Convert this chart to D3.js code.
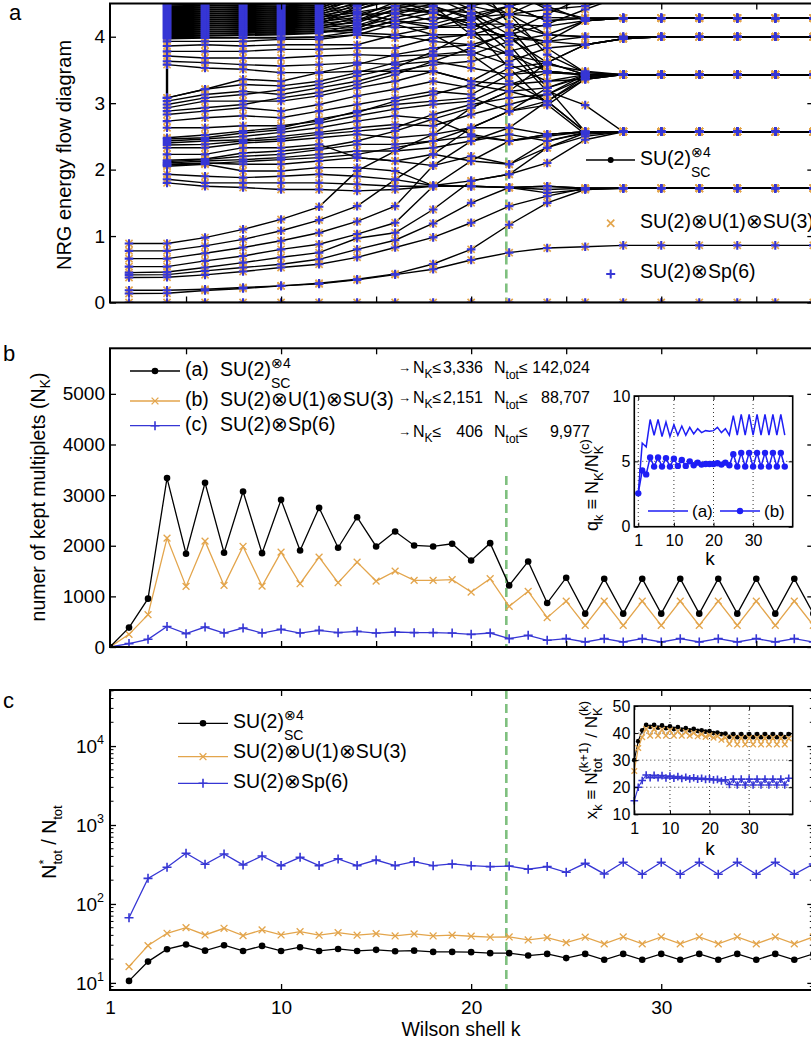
<!DOCTYPE html>
<html>
<head>
<meta charset="utf-8">
<script src="https://cdn.jsdelivr.net/npm/d3@7"></script>
<style>
  body { margin: 0; background: #fff; }
  svg { display: block; font-family: "Liberation Sans", Arial, Helvetica, sans-serif; }
</style>
</head>
<body>
<div id="chart"></div>
<script>
const _ = null;

// ---------- panel a : NRG energy flow (even Wilson shells) ----------
const kFlow = [2,4,6,8,10,12,14,16,18,20,22,24,26,28,30,32,34,36,38];
const lowLevels = [
  [0,0,0,0,0,0,0,0,0,0,0,0,0,0,0,0,0,0,0],
  [0.135,0.14,0.18,0.21,0.25,0.28,0.34,0.42,0.50,0.64,0.75,0.82,0.84,0.86,0.86,0.86,0.86,0.86,0.86],
  [0.185,0.185,0.20,0.225,0.25,0.29,0.35,0.43,0.58,0.80,1.17,1.50,1.70,1.72,1.72,1.72,1.72,1.72,1.72],
  [0.376,0.38,0.416,0.466,0.526,0.576,0.68,0.827,0.98,1.20,1.45,1.60,1.72,1.72,1.72,1.72,1.72,1.72,1.72],
  [0.416,0.42,0.476,0.526,0.576,0.65,0.80,0.937,1.19,1.50,1.73,1.75,1.72,1.72,1.72,1.72,1.72,1.72,1.72],
  [0.45,0.46,0.526,0.60,0.68,0.75,0.967,1.05,1.40,1.83,1.93,2.33,2.55,2.57,2.57,2.57,2.57,2.57,2.57],
  [0.54,0.54,0.627,0.70,0.80,0.877,1.03,1.20,1.75,2.13,2.43,2.53,2.57,2.57,2.57,2.57,2.57,2.57,2.57],
  [0.66,0.66,0.742,0.827,0.93,1.05,1.22,1.45,2.06,2.43,2.63,3.03,3.40,3.43,3.43,3.43,3.43,3.43,3.43],
  [0.777,0.777,0.852,0.95,1.08,1.24,1.45,1.85,2.23,2.63,2.88,3.23,3.43,3.43,3.43,3.43,3.43,3.43,3.43],
  [0.887,0.887,0.977,1.10,1.25,1.44,1.98,2.28,2.53,2.93,3.18,3.61,3.88,3.97,4.0,4.0,4.0,4.0,4.0]
];
const midLevels = [
  [_,1.80,1.75,1.73,1.70,1.70,1.68,1.70,1.75,1.75,1.73,1.75,1.72,1.72,1.72,1.72,1.72,1.72,1.72],
  [_,1.855,1.80,1.80,1.80,1.80,1.78,1.75,1.75,1.75,1.73,1.70,1.72,1.72,1.72,1.72,1.72,1.72,1.72],
  [_,1.93,1.90,1.88,1.90,1.93,1.90,1.85,1.76,1.83,1.93,2.10,2.45,2.57,2.57,2.57,2.57,2.57,2.57],
  [_,2.05,2.08,1.98,1.98,2.03,2.03,1.98,1.76,1.75,1.73,1.65,1.70,1.72,1.72,1.72,1.72,1.72,1.72],
  [_,2.07,2.09,2.12,2.15,2.18,2.23,2.33,2.43,2.63,2.88,2.97,3.36,3.43,3.43,3.43,3.43,3.43,3.43],
  [_,2.08,2.10,2.08,2.08,2.13,2.18,2.13,2.06,2.20,2.08,2.33,2.50,2.57,2.57,2.57,2.57,2.57,2.57],
  [_,2.10,2.13,2.15,2.18,2.23,2.28,2.28,2.33,2.43,2.53,2.43,2.56,2.57,2.57,2.57,2.57,2.57,2.57],
  [_,2.12,2.15,2.20,2.23,2.30,2.38,2.38,2.43,2.50,2.43,2.53,2.57,2.57,2.57,2.57,2.57,2.57,2.57],
  [_,2.14,2.16,2.25,2.28,2.33,2.43,2.58,2.76,2.53,2.43,2.50,2.57,2.57,2.57,2.57,2.57,2.57,2.57],
  [_,2.23,2.23,2.33,2.33,2.38,2.18,2.13,2.23,2.13,2.08,2.43,2.55,2.57,2.57,2.57,2.57,2.57,2.57],
  [_,2.33,2.33,2.40,2.43,2.48,2.53,2.48,2.53,2.63,2.63,2.53,2.57,2.57,2.57,2.57,2.57,2.57,2.57],
  [_,2.37,2.38,2.43,2.46,2.53,2.58,2.63,2.83,2.98,3.08,3.13,3.43,3.43,3.43,3.43,3.43,3.43,3.43],
  [_,2.40,2.43,2.45,2.50,2.56,2.63,2.68,2.66,2.83,2.98,3.13,3.38,3.43,3.43,3.43,3.43,3.43,3.43],
  [_,2.43,2.46,2.50,2.56,2.63,2.73,2.81,2.76,2.93,3.18,3.23,3.40,3.43,3.43,3.43,3.43,3.43,3.43],
  [_,2.46,2.48,2.55,2.60,2.70,2.81,2.91,2.98,3.03,3.28,3.33,3.43,3.43,3.43,3.43,3.43,3.43,3.43],
  [_,2.48,2.52,2.58,2.63,2.76,2.86,3.03,3.13,3.28,3.18,3.03,2.57,2.57,2.57,2.57,2.57,2.57,2.57],
  [_,2.63,2.63,2.66,2.66,2.73,2.88,2.98,3.03,3.08,2.88,3.03,3.36,3.43,3.43,3.43,3.43,3.43,3.43],
  [_,2.73,2.78,2.81,2.78,2.88,2.98,3.08,3.18,3.13,3.43,3.48,3.43,3.43,3.43,3.43,3.43,3.43,3.43],
  [_,2.83,2.88,2.93,2.88,2.98,3.11,3.21,3.33,3.23,3.53,3.61,3.88,3.97,4.0,4.0,4.0,4.0,4.0],
  [_,2.88,2.93,2.98,3.08,3.16,3.28,3.43,3.63,3.83,4.06,4.34,4.60],
  [_,2.93,3.03,3.03,3.03,3.11,3.23,3.33,3.48,3.33,3.63,3.83,3.88,3.97,4.0,4.0,4.0,4.0,4.0],
  [_,2.98,3.08,3.13,3.20,3.28,3.41,3.53,3.78,4.08,4.34,4.60],
  [_,3.03,3.13,3.18,3.13,3.23,3.33,3.48,3.58,3.63,3.78,3.93,4.24,4.28,4.28,4.28,4.28,4.28,4.28],
  [_,3.08,3.21,3.28,3.26,3.33,3.46,3.61,3.71,3.73,3.93,4.03,4.24,4.28,4.28,4.28,4.28,4.28,4.28],
  [_,3.08,3.21,3.36,3.33,3.46,3.58,3.73,3.83,3.88,4.03,4.19,4.41,4.62]
];
const highLevels = [
  [_,3.58,3.53,3.51,3.46,3.46,3.48,3.48,3.48,3.33,3.28,3.46,3.43,3.43,3.43,3.43,3.43,3.43,3.43],
  [_,3.63,3.61,3.58,3.56,3.58,3.61,3.58,3.63,3.53,3.43,3.58,3.48,3.43,3.43,3.43,3.43,3.43,3.43],
  [_,3.71,3.68,3.68,3.68,3.71,3.73,3.71,3.73,3.78,3.58,3.33,3.36,3.43,3.43,3.43,3.43,3.43,3.43],
  [_,3.78,3.78,3.78,3.81,3.81,3.83,3.83,3.98,4.03,4.19,4.16,4.24,4.28,4.28,4.28,4.28,4.28,4.28],
  [_,3.86,3.88,3.86,3.88,3.88,3.88,4.03,4.14,4.14,4.34,4.41,4.46,4.62],
  [_,3.93,3.93,3.93,3.96,3.96,4.03,4.19,4.29,4.24,4.46,4.60],
  [_,3.97,3.98,3.98,3.98,3.99,4.03,3.98,4.03,4.03,4.03,3.93,3.88,3.97,4.0,4.0,4.0,4.0,4.0],
  [_,3.985,3.99,3.99,3.99,4.00,4.08,4.24,4.19,4.34,4.46,4.60],
  [_,4.00,4.01,4.02,4.03,4.05,4.19,4.14,4.14,4.19,4.19,4.03,4.0,4.0,4.0,4.0,4.0,4.0,4.0],
  [_,4.015,4.02,4.03,4.045,4.06,4.12,4.36,4.50,4.70],
  [_,4.03,4.04,4.05,4.06,4.08,4.10,4.24,4.36,4.46,4.34,3.73,3.46,3.43,3.43,3.43,3.43,3.43,3.43],
  [_,4.045,4.05,4.06,4.075,4.09,4.06,4.03,3.93,3.88,3.73,3.48,3.43,3.43,3.43,3.43,3.43,3.43,3.43],
  [_,4.06,4.07,4.08,4.09,4.11,4.14,4.29,4.41,4.36,4.03,3.46,3.43,3.43,3.43,3.43,3.43,3.43,3.43],
  [_,4.075,4.08,4.09,4.105,4.12,4.24,4.41,4.56,4.70],
  [_,4.09,4.10,4.11,4.12,4.14,4.17,4.34,4.46,4.26,3.78,3.18,2.97,2.57,2.57,2.57,2.57,2.57,2.57],
  [_,4.105,4.11,4.12,4.135,4.15,4.29,4.19,4.03,3.73,3.33,3.03,2.57,2.57,2.57,2.57,2.57,2.57,2.57],
  [_,4.12,4.13,4.14,4.15,4.17,4.21,4.41,4.36,4.14,3.53,2.98,2.53,2.57,2.57,2.57,2.57,2.57,2.57],
  [_,4.135,4.14,4.15,4.165,4.18,4.46,4.60],
  [_,4.15,4.16,4.17,4.18,4.20,4.25,4.46,4.56,4.62],
  [_,4.165,4.17,4.18,4.195,4.21,4.34,4.46,4.36,4.19,3.98,3.61,3.43,3.43,3.43,3.43,3.43,3.43,3.43],
  [_,4.18,4.19,4.20,4.21,4.23,4.29,4.52,4.60],
  [_,4.195,4.20,4.21,4.225,4.24,4.41,4.60],
  [_,4.21,4.22,4.23,4.24,4.26,4.33,4.36,4.24,4.46,4.60],
  [_,4.225,4.23,4.24,4.255,4.27,4.49,4.70],
  [_,4.24,4.25,4.26,4.27,4.29,4.37,4.46,4.46,4.29,4.34,4.29,4.28,4.28,4.28,4.28,4.28,4.28,4.28],
  [_,4.255,4.26,4.27,4.285,4.30,4.36,4.24,4.14,4.29,4.46,4.24,4.28,4.28,4.28,4.28,4.28,4.28,4.28],
  [_,4.27,4.28,4.29,4.30,4.32,4.41,4.56,4.70],
  [_,4.285,4.29,4.30,4.315,4.33,4.52,4.80],
  [_,4.30,4.31,4.32,4.33,4.35,4.45,4.62],
  [_,4.315,4.32,4.33,4.345,4.36,4.58],
  [_,4.33,4.34,4.35,4.36,4.38,4.49,4.70],
  [_,4.345,4.35,4.36,4.375,4.39,4.62],
  [_,4.36,4.37,4.38,4.39,4.41,4.55,4.80],
  [_,4.375,4.38,4.39,4.405,4.42,4.66],
  [_,4.39,4.40,4.41,4.42,4.44,4.60],
  [_,4.405,4.41,4.42,4.435,4.45,4.70],
  [_,4.42,4.43,4.44,4.45,4.47,4.65],
  [_,4.435,4.44,4.45,4.465,4.48,4.74],
  [_,4.45,4.46,4.47,4.48,4.50,4.70],
  [_,4.465,4.47,4.48,4.495,4.51,4.78],
  [_,4.48,4.49,4.50,4.51,4.53,4.75],
  [_,4.495,4.50,4.51,4.525,4.54]
];
const enteringLevels = [
  [_,_,_,_,_,_,_,_,_,4.70,4.46,4.24,4.28,4.28,4.28,4.28,4.28,4.28,4.28],
  [_,_,_,_,_,_,_,_,4.80,4.60,4.34,4.03,4.0,4.0,4.0,4.0,4.0,4.0,4.0],
  [_,_,_,_,_,_,_,_,_,4.90,4.19,3.83,3.46,3.43,3.43,3.43,3.43,3.43,3.43],
  [_,_,_,_,_,_,_,_,_,_,4.70,4.41,4.28,4.28,4.28,4.28,4.28,4.28,4.28],
  [_,_,_,_,_,_,_,4.70,4.46,4.03,3.73,3.61,3.43,3.43,3.43,3.43,3.43,3.43,3.43],
  [_,_,_,_,_,_,_,4.80,4.60,4.34,3.88,3.23,2.57,2.57,2.57,2.57,2.57,2.57,2.57],
  [_,_,_,_,_,_,_,_,4.90,4.50,4.60,4.46,4.24,4.28,4.28,4.28,4.28,4.28,4.28],
  [_,_,_,_,_,_,4.70,4.56,4.36,4.19,3.98,3.93,4.0,4.0,4.0,4.0,4.0,4.0,4.0],
  [_,_,_,_,_,_,_,4.90,4.66,4.41,4.14,3.48,3.43,3.43,3.43,3.43,3.43,3.43,3.43]
];
const jumpK = [4, 4];
const jumpE = [3.08, 3.58];
const flowTicksY = [0, 1, 2, 3, 4];

// ---------- panel b : kept multiplets ----------
const kShell = [1,2,3,4,5,6,7,8,9,10,11,12,13,14,15,16,17,18,19,20,21,22,23,24,25,26,27,28,29,30,31,32,33,34,35,36,37,38];
const keptA = [0,383,955,3336,1842,3243,1862,3071,1854,2907,1907,2749,1960,2564,1986,2282,2006,1986,2039,1710,2051,1217,1690,868,1369,659,1349,659,1349,659,1349,659,1349,659,1349,659,1349,659];
const keptB = [0,250,639,2151,1197,2091,1217,1986,1203,1874,1250,1775,1270,1677,1302,1499,1316,1316,1329,1085,1349,803,1099,580,907,428,907,428,907,428,907,428,907,428,907,428,907,428];
const keptC = [0,67,152,406,264,394,276,375,276,349,276,329,283,309,276,296,283,283,276,250,276,165,230,132,165,99,165,99,165,99,165,99,165,99,165,99,165,99];
const keptTicksY = [0,1000,2000,3000,4000,5000];

// inset b : q_k ratios
const qA = [2.55,6.4,6.1,8.2,7.0,8.2,6.9,8.0,6.9,7.8,7.0,7.7,7.0,7.6,7.1,7.5,7.2,7.35,7.3,7.35,7.6,7.2,7.5,7.0,8.5,7.0,8.6,7.0,8.6,7.0,8.6,7.0,8.6,7.0,8.6,7.0,8.6,7.0];
const qB = [2.55,4.3,4.0,5.3,4.6,5.3,4.6,5.25,4.6,5.2,4.65,5.1,4.65,5.0,4.7,4.9,4.75,4.8,4.8,4.8,4.85,4.75,4.9,4.7,5.55,4.6,5.65,4.6,5.65,4.6,5.65,4.6,5.65,4.6,5.65,4.6,5.65,4.6];

// ---------- panel c : N*_tot / N_tot ----------
const kRatio = [2,3,4,5,6,7,8,9,10,11,12,13,14,15,16,17,18,19,20,21,22,23,24,25,26,27,28,29,30,31,32,33,34,35,36,37,38];
const ratioA = [10.6,18.6,26.7,30.6,25.6,30.0,25.4,29.4,25.4,28.3,25.4,26.9,25.4,26.2,25.2,25.6,24.7,24.7,24.5,23.8,23.8,22.2,23.3,20.6,23.3,19.6,23.3,19.6,23.3,19.6,23.3,19.6,23.3,19.6,23.3,19.6,23.3];
const ratioB = [16.1,29.7,42.5,50.1,40.5,49.2,39.7,46.9,40.5,44.6,40.2,43.4,40.2,42.1,39.3,41.7,39.3,40.2,39.0,37.9,38.2,35.0,37.4,32.4,37.9,31.2,38.2,31.2,38.2,31.2,38.2,31.2,38.2,31.2,38.2,31.2,38.2];
const ratioC = [67,211,292,438,318,430,312,405,306,390,306,372,306,360,306,343,305,321,305,297,302,275,297,252,327,240,337,238,337,238,337,238,337,238,337,238,321];

// inset c : x_k growth factors
const kGrowth = [1,2,3,4,5,6,7,8,9,10,11,12,13,14,15,16,17,18,19,20,21,22,23,24,25,26,27,28,29,30,31,32,33,34,35,36,37,38,39,40];
const growA = [30,37,41,43,42.3,43,42,42.8,41.8,42.5,41.5,42.2,41.3,41.8,41,41.5,40.8,41,40.5,40.7,40,40.2,39.6,39.8,38.6,39.6,38.5,39.6,38.5,39.6,38.5,39.6,38.5,39.6,38.5,39.6,38.5,39.6,38.5,39.6];
const growB = [26,34.5,38.5,41.5,39,41.5,39,41.2,39,41,39,40.7,39,40.4,39,40,38.8,39.6,38.6,39.2,38.3,38.8,37.5,38.3,36,38.2,35.8,38.2,35.8,38.2,35.8,38.2,35.8,38.2,35.8,38.2,35.8,38.2,35.8,38];
const growC = [15,20,22.5,24.5,23.5,24.4,23.5,24.3,23.4,24.1,23.3,23.9,23.2,23.7,23.1,23.5,23,23.3,22.9,23.1,22.7,22.9,22.3,22.7,21,23,20.8,23,20.8,23,20.8,23,20.8,23,20.8,23,20.8,23,20.8,23.3];

const wilsonTicks = [5,10,15,20,25,30,35];
const shellLabels = [1,10,20,30];
const dashK = 21.85;

// ---------- styling ----------
const BLACK = '#000', ORANGE = '#e3a54c', BLUE = '#3636d4', PBLUE = '#1e1ef5', GREEN = '#7fc07f';
const W = 811, H = 1042;
const L = 110, R = 813.3;
const LEG = 19.5, TICK = 19;

const svg = d3.select('#chart').append('svg').attr('width', W).attr('height', H);
const x = d3.scaleLinear().domain([1, 38]).range([L, R]);

const crossPath = a => `M${-a},${-a}L${a},${a}M${-a},${a}L${a},${-a}`;
const plusPath = a => `M${-a},0H${a}M0,${-a}V${a}`;

function rich(text, parts) {
  let shift = 0, prevW = 0;
  parts.forEach(p => {
    const off = p.off || 0;
    const ts = text.append('tspan').text(p.t).attr('dy', off - shift);
    if (p.size) ts.attr('font-size', p.size);
    if (p.back) ts.attr('dx', -prevW);
    shift = off;
    prevW = ts.node().getComputedTextLength();
  });
  return text;
}

function axes(g, xs, ys, top, bottom, left, right, o) {
  const tick = o.tick || 6;
  const st = a => a.call(s => s.select('.domain').remove())
    .call(s => s.selectAll('line').attr('stroke', BLACK).attr('stroke-width', o.tw || 1.3))
    .call(s => s.selectAll('text').attr('font-size', o.fs || TICK).attr('fill', BLACK)
      .attr('font-family', '"Liberation Sans", Arial, sans-serif'));
  g.append('g').attr('transform', `translate(0,${bottom})`)
    .call(d3.axisBottom(xs).tickValues(o.xt).tickSize(-tick).tickPadding(o.xpad || 11)
      .tickFormat(o.xlab ? d3.format('d') : '')).call(st);
  g.append('g').attr('transform', `translate(0,${top})`)
    .call(d3.axisTop(xs).tickValues(o.xt).tickSize(-tick).tickFormat('')).call(st);
  g.append('g').attr('transform', `translate(${left},0)`)
    .call(d3.axisLeft(ys).tickValues(o.yt).tickSize(-tick).tickPadding(o.ypad || 5)
      .tickFormat(o.ylab === false ? '' : d3.format('d'))).call(st);
  g.append('g').attr('transform', `translate(${right},0)`)
    .call(d3.axisRight(ys).tickValues(o.yt).tickSize(-tick).tickFormat('')).call(st);
}

function frame(g, top, bottom, left, right, w) {
  g.append('rect').attr('x', left).attr('y', top).attr('width', right - left).attr('height', bottom - top)
    .attr('fill', 'none').attr('stroke', BLACK).attr('stroke-width', w || 2);
}

function clip(id, top, bottom, left, right) {
  svg.append('clipPath').attr('id', id).append('rect')
    .attr('x', left).attr('y', top).attr('width', right - left).attr('height', bottom - top);
}

function series(g, xs, ys, ks, vals, color, marker, size, lw) {
  const pts = ks.map((k, i) => [k, vals[i]]).filter(d => d[1] != null);
  g.append('path').datum(pts)
    .attr('d', d3.line().x(d => xs(d[0])).y(d => ys(d[1])))
    .attr('fill', 'none').attr('stroke', color).attr('stroke-width', lw || 1.3);
  markers(g, xs, ys, pts, color, marker, size);
}

function markers(g, xs, ys, pts, color, marker, size, sw) {
  if (marker === 'none') return;
  const m = g.append('g').selectAll('.m').data(pts).join(marker === 'dot' ? 'circle' : 'path')
    .attr('transform', d => `translate(${xs(d[0])},${ys(d[1])})`);
  if (marker === 'dot') m.attr('r', size).attr('fill', color);
  else m.attr('d', marker === 'x' ? crossPath(size) : plusPath(size))
    .attr('fill', 'none').attr('stroke', color).attr('stroke-width', sw || (marker === 'x' ? 1.3 : 1.6));
}

function panelLetter(t, px, py) {
  svg.append('text').attr('x', px).attr('y', py).attr('font-size', 22).text(t);
}

function ylabel(px, py, parts, fs) {
  const t = svg.append('text').attr('transform', `translate(${px},${py}) rotate(-90)`)
    .attr('text-anchor', 'middle').attr('font-size', fs || 19.5);
  return rich(t, parts);
}

const su4 = (t0, size) => [
  { t: t0 },
  { t: '⊗4', off: -8, size: size },
  { t: 'SC', off: 12, size: size, back: true }
];

// =============== panel a ===============
const aTop = 3.5, aBot = 302.5;
const ya = d3.scaleLinear().domain([0, 4.5]).range([aBot, aTop]);
clip('clipA', aTop, aBot, L, R);
const ga = svg.append('g');
const gaData = ga.append('g').attr('clip-path', 'url(#clipA)');

gaData.append('line').attr('x1', x(dashK)).attr('x2', x(dashK)).attr('y1', aTop).attr('y2', aBot)
  .attr('stroke', GREEN).attr('stroke-width', 2.6).attr('stroke-dasharray', '9,5');

const allLevels = lowLevels.concat(midLevels, highLevels, enteringLevels);
const flowLine = d3.line().defined(d => d[1] != null).x(d => x(d[0])).y(d => ya(d[1]));
allLevels.forEach(lv => {
  gaData.append('path').datum(kFlow.map((k, i) => [k, lv[i] === undefined ? null : lv[i]]))
    .attr('d', flowLine).attr('fill', 'none').attr('stroke', BLACK).attr('stroke-width', 1.4);
});
gaData.append('path').datum(jumpK.map((k, i) => [k, jumpE[i]]))
  .attr('d', flowLine).attr('fill', 'none').attr('stroke', BLACK).attr('stroke-width', 2.4);

const flowPts = [];
allLevels.forEach(lv => lv.forEach((v, i) => { if (v != null && v <= 4.56) flowPts.push([kFlow[i], v]); }));
markers(gaData, x, ya, flowPts, ORANGE, 'x', 3.6, 1.7);
markers(gaData, x, ya, flowPts, BLUE, 'plus', 4.3, 2.1);

frame(ga, aTop, aBot, L, R);
axes(ga, x, ya, aTop, aBot, L, R, { xt: wilsonTicks, yt: flowTicksY, xlab: false });
ylabel(71, 155, [{ t: 'NRG energy flow diagram' }], 20);
panelLetter('a', 9, 20);

// legend a
const legA = svg.append('g');
legA.append('line').attr('x1', 586).attr('x2', 635).attr('y1', 160).attr('y2', 160).attr('stroke', BLACK).attr('stroke-width', 1.3);
legA.append('circle').attr('cx', 610.7).attr('cy', 160).attr('r', 3).attr('fill', BLACK);
rich(legA.append('text').attr('x', 640).attr('y', 164.5).attr('font-size', LEG), su4('SU(2)', 14));
markers(legA, d => d, d => d, [[610.7, 223.3]], ORANGE, 'x', 3.6, 1.7);
legA.append('text').attr('x', 640).attr('y', 228).attr('font-size', LEG).text('SU(2)⊗U(1)⊗SU(3)');
markers(legA, d => d, d => d, [[610.7, 274]], BLUE, 'plus', 4.5, 2);
legA.append('text').attr('x', 640).attr('y', 278).attr('font-size', LEG).text('SU(2)⊗Sp(6)');

// =============== panel b ===============
const bTop = 348.3, bBot = 647;
const yb = d3.scaleLinear().domain([0, 5900]).range([bBot, bTop]);
clip('clipB', bTop, bBot, L, R);
const gb = svg.append('g');
const gbData = gb.append('g').attr('clip-path', 'url(#clipB)');
gbData.append('line').attr('x1', x(dashK)).attr('x2', x(dashK)).attr('y1', 476).attr('y2', bBot)
  .attr('stroke', GREEN).attr('stroke-width', 2.6).attr('stroke-dasharray', '9,5');
series(gbData, x, yb, kShell, keptC, BLUE, 'plus', 4.5);
series(gbData, x, yb, kShell, keptB, ORANGE, 'x', 3.4);
series(gbData, x, yb, kShell, keptA, BLACK, 'dot', 3.3);
frame(gb, bTop, bBot, L, R);
axes(gb, x, yb, bTop, bBot, L, R, { xt: wilsonTicks, yt: keptTicksY, xlab: false });
ylabel(45, 497, [{ t: 'numer of kept multiplets (N' }, { t: 'K', off: 5, size: 14 }, { t: ')', off: 0 }]);
panelLetter('b', 3, 360.7);

// legend b
const legB = svg.append('g');
[[371, BLACK, 'dot', 3.3], [401, ORANGE, 'x', 3.4], [425.7, BLUE, 'plus', 4.5]].forEach(r => {
  legB.append('line').attr('x1', 130).attr('x2', 180).attr('y1', r[0]).attr('y2', r[0]).attr('stroke', r[1]).attr('stroke-width', 1.3);
  markers(legB, d => d, d => d, [[155, r[0]]], r[1], r[2], r[3]);
});
legB.append('text').attr('x', 185).attr('y', 376).attr('font-size', LEG).text('(a)');
legB.append('text').attr('x', 185).attr('y', 406).attr('font-size', LEG).text('(b)');
legB.append('text').attr('x', 185).attr('y', 431).attr('font-size', LEG).text('(c)');
rich(legB.append('text').attr('x', 220).attr('y', 376).attr('font-size', LEG), su4('SU(2)', 14));
legB.append('text').attr('x', 220).attr('y', 406).attr('font-size', LEG).text('SU(2)⊗U(1)⊗SU(3)');
legB.append('text').attr('x', 220).attr('y', 431).attr('font-size', LEG).text('SU(2)⊗Sp(6)');

// bound annotations
const bounds = [['3,336', '142,024', 372.7], ['2,151', '88,707', 402.7], ['406', '9,977', 436.7]];
bounds.forEach(b => {
  const yy = b[2];
  svg.append('text').attr('x', 398).attr('y', yy - 1).attr('font-size', 13).text('→');
  rich(svg.append('text').attr('x', 413).attr('y', yy).attr('font-size', 16),
    [{ t: 'N' }, { t: 'K', off: 5, size: 12 }, { t: '≤', off: 0 }]);
  svg.append('text').attr('x', 483).attr('y', yy).attr('font-size', 16).attr('text-anchor', 'end').text(b[0]);
  rich(svg.append('text').attr('x', 494).attr('y', yy).attr('font-size', 16),
    [{ t: 'N' }, { t: 'tot', off: 6, size: 12 }, { t: '≤', off: 0 }]);
  svg.append('text').attr('x', 590).attr('y', yy).attr('font-size', 16).attr('text-anchor', 'end').text(b[1]);
});

// inset b
const ibL = 634.3, ibR = 792.7, ibT = 396, ibB = 526.7;
const xib = d3.scaleLinear().domain([0, 40]).range([ibL, ibR]);
const yib = d3.scaleLinear().domain([0, 10]).range([ibB, ibT]);
const gib = svg.append('g');
gib.append('rect').attr('x', ibL).attr('y', ibT).attr('width', ibR - ibL).attr('height', ibB - ibT).attr('fill', '#fff');
shellLabels.forEach(k => gib.append('line').attr('x1', xib(k)).attr('x2', xib(k)).attr('y1', ibT).attr('y2', ibB)
  .attr('stroke', BLACK).attr('stroke-width', 0.8).attr('stroke-dasharray', '1,3'));
gib.append('line').attr('x1', ibL).attr('x2', ibR).attr('y1', yib(5)).attr('y2', yib(5))
  .attr('stroke', BLACK).attr('stroke-width', 0.8).attr('stroke-dasharray', '1,3');
series(gib, xib, yib, kShell, qA, PBLUE, 'none', 0, 1.5);
series(gib, xib, yib, kShell, qB, PBLUE, 'dot', 3.2, 1.5);
frame(gib, ibT, ibB, ibL, ibR, 1.6);
axes(gib, xib, yib, ibT, ibB, ibL, ibR, { xt: shellLabels, yt: [0, 5, 10], xlab: true, fs: 16, tick: 4, xpad: 8, ypad: 4, tw: 1 });
gib.append('text').attr('x', 710).attr('y', 565).attr('font-size', 19).attr('text-anchor', 'middle').text('k');
ylabel(598, 485, [{ t: 'q' }, { t: 'k', off: 5, size: 13 }, { t: ' ≡ N', off: 0 }, { t: 'K', off: 5, size: 13 },
  { t: '/N', off: 0 }, { t: 'K', off: 5, size: 13 }, { t: '(c)', off: -9, size: 13, back: true }], 18);
// inset legend
gib.append('line').attr('x1', 648).attr('x2', 688).attr('y1', 511).attr('y2', 511).attr('stroke', PBLUE).attr('stroke-width', 1.5);
gib.append('text').attr('x', 692).attr('y', 517).attr('font-size', 17).text('(a)');
gib.append('line').attr('x1', 720).attr('x2', 760).attr('y1', 511).attr('y2', 511).attr('stroke', PBLUE).attr('stroke-width', 1.5);
gib.append('circle').attr('cx', 740).attr('cy', 511).attr('r', 3.2).attr('fill', PBLUE);
gib.append('text').attr('x', 764).attr('y', 517).attr('font-size', 17).text('(b)');

// =============== panel c ===============
const cTop = 690, cBot = 990;
const yc = d3.scaleLog().domain([Math.pow(10, 0.91), Math.pow(10, 4.71)]).range([cBot, cTop]);
clip('clipC', cTop, cBot, L, R);
const gc = svg.append('g');
const gcData = gc.append('g').attr('clip-path', 'url(#clipC)');
gcData.append('line').attr('x1', x(dashK)).attr('x2', x(dashK)).attr('y1', cTop).attr('y2', cBot)
  .attr('stroke', GREEN).attr('stroke-width', 2.6).attr('stroke-dasharray', '9,5');
series(gcData, x, yc, kRatio, ratioC, BLUE, 'plus', 4.5);
series(gcData, x, yc, kRatio, ratioB, ORANGE, 'x', 3.4);
series(gcData, x, yc, kRatio, ratioA, BLACK, 'dot', 3.3);
frame(gc, cTop, cBot, L, R);
const decades = [10, 100, 1000, 10000];
const minor = [];
[1, 10, 100, 1000, 10000].forEach(d => [2,3,4,5,6,7,8,9].forEach(m => {
  const v = d * m; if (v > yc.domain()[0] && v < yc.domain()[1]) minor.push(v);
}));
axes(gc, x, yc, cTop, cBot, L, R, { xt: shellLabels, yt: decades, xlab: true, ylab: false });
[L, R].forEach((px, side) => {
  minor.forEach(v => gc.append('line').attr('x1', px).attr('x2', side ? px - 3.5 : px + 3.5)
    .attr('y1', yc(v)).attr('y2', yc(v)).attr('stroke', BLACK).attr('stroke-width', 1));
});
decades.forEach((d, i) => {
  rich(gc.append('text').attr('x', 104).attr('y', yc(d) + 7).attr('font-size', TICK).attr('text-anchor', 'end'),
    [{ t: '10' }, { t: String(i + 1), off: -9, size: 12.5 }]);
});
svg.append('text').attr('x', 461).attr('y', 1036).attr('font-size', LEG).attr('text-anchor', 'middle').text('Wilson shell k');
ylabel(56, 842, [{ t: 'N' }, { t: '*', off: -8, size: 13 }, { t: 'tot', off: 6, size: 13, back: true },
  { t: ' / N', off: 0 }, { t: 'tot', off: 6, size: 13 }]);
panelLetter('c', 3, 708.3);

// legend c
const legC = svg.append('g');
[[723.3, BLACK, 'dot', 3.3], [756.7, ORANGE, 'x', 3.4], [783.3, BLUE, 'plus', 4.5]].forEach(r => {
  legC.append('line').attr('x1', 178).attr('x2', 228).attr('y1', r[0]).attr('y2', r[0]).attr('stroke', r[1]).attr('stroke-width', 1.3);
  markers(legC, d => d, d => d, [[203, r[0]]], r[1], r[2], r[3]);
});
rich(legC.append('text').attr('x', 233).attr('y', 728).attr('font-size', LEG), su4('SU(2)', 14));
legC.append('text').attr('x', 233).attr('y', 758).attr('font-size', LEG).text('SU(2)⊗U(1)⊗SU(3)');
legC.append('text').attr('x', 233).attr('y', 788).attr('font-size', LEG).text('SU(2)⊗Sp(6)');

// inset c
const icL = 634.3, icR = 792.7, icT = 706, icB = 814.3;
const xic = d3.scaleLinear().domain([1, 41]).range([icL, icR]);
const yic = d3.scaleLinear().domain([10, 50]).range([icB, icT]);
const gic = svg.append('g');
gic.append('rect').attr('x', icL).attr('y', icT).attr('width', icR - icL).attr('height', icB - icT).attr('fill', '#fff');
[10, 20, 30].forEach(k => gic.append('line').attr('x1', xic(k)).attr('x2', xic(k)).attr('y1', icT).attr('y2', icB)
  .attr('stroke', BLACK).attr('stroke-width', 0.8).attr('stroke-dasharray', '1,3'));
[20, 30, 40].forEach(v => gic.append('line').attr('x1', icL).attr('x2', icR).attr('y1', yic(v)).attr('y2', yic(v))
  .attr('stroke', BLACK).attr('stroke-width', 0.8).attr('stroke-dasharray', '1,3'));
series(gic, xic, yic, kGrowth, growA, BLACK, 'dot', 2.4, 1.1);
series(gic, xic, yic, kGrowth, growB, ORANGE, 'x', 2.8, 1.1);
series(gic, xic, yic, kGrowth, growC, BLUE, 'plus', 3.8, 1.1);
frame(gic, icT, icB, icL, icR, 1.6);
axes(gic, xic, yic, icT, icB, icL, icR, { xt: shellLabels, yt: [10, 20, 30, 40, 50], xlab: true, fs: 16, tick: 4, xpad: 8, ypad: 4, tw: 1 });
gic.append('text').attr('x', 710).attr('y', 855).attr('font-size', 19).attr('text-anchor', 'middle').text('k');
ylabel(597, 760, [{ t: 'x' }, { t: 'k', off: 5, size: 13 }, { t: ' ≡ N', off: 0 }, { t: 'tot', off: 5, size: 13 },
  { t: '(k+1)', off: -9, size: 13, back: true }, { t: ' / N', off: 0 }, { t: 'K', off: 5, size: 13 },
  { t: '(k)', off: -9, size: 13, back: true }], 17);
</script>
</body>
</html>
